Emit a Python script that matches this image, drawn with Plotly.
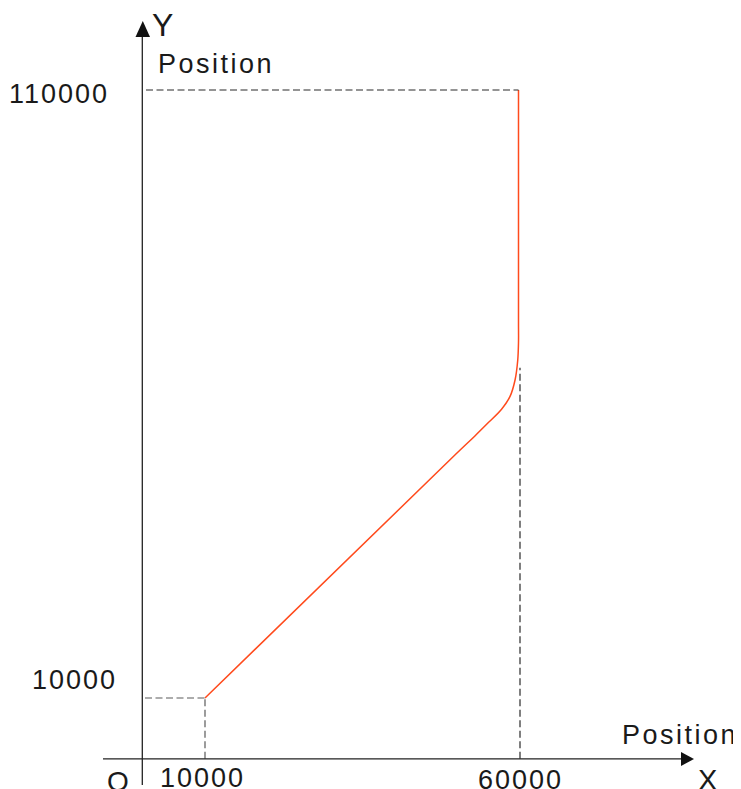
import plotly.graph_objects as go

# ---- data ----
path_x = [10000, 49900, 53050, 55200, 57300, 58650, 59450, 59880, 60000, 60000, 60000]
path_y = [10000, 50000, 53100, 55300, 57500, 59600, 62300, 65600, 68500, 72000, 110000]

x_ticks = [10000, 60000]
x_tick_labels = ["10000", "60000"]
y_ticks = [10000, 110000]
y_tick_labels = ["10000", "110000"]
guide_60000_from = 64300   # lower dashed guide at x=60000 starts here

# ---- pixel mapping (plot area = full figure; page body has an 8px margin) ----
W, H = 741, 789
PAGE = 8
SX = 0.00627   # px per unit
SY = 0.00608
OX, OY = 142.3 - PAGE, 758.8 - PAGE
x0 = -OX / SX
x1 = x0 + W / SX
y1 = OY / SY
y0 = y1 - H / SY


def ux(px):   # reference screen px -> data x
    return (px - PAGE - OX) / SX


def uy(py):
    return (OY - (py - PAGE)) / SY


FONT = "Liberation Sans, Arial, sans-serif"
TXT = "#1a1a1a"


def sp(t, s=2):
    return f'<span style="letter-spacing:{s}px">{t}</span>'


fig = go.Figure()

# curve
fig.add_trace(go.Scatter(x=path_x, y=path_y, mode="lines",
                         line=dict(color="#ff4a1c", width=1.5, shape="spline", smoothing=1.0),
                         hoverinfo="skip", showlegend=False))

shapes = []
dash_dark = dict(color="#2a2a2a", width=1.2, dash="7px,3.5px")
dash_grey = dict(color="#5a5a5a", width=1.2, dash="7px,3.5px")
# guides
shapes.append(dict(type="line", xref="x", yref="y", x0=ux(146), x1=x_ticks[1], y0=y_ticks[1], y1=y_ticks[1], line=dash_dark))
shapes.append(dict(type="line", xref="x", yref="y", x0=ux(145), x1=x_ticks[0], y0=y_ticks[0], y1=y_ticks[0], line=dash_grey))
shapes.append(dict(type="line", xref="x", yref="y", x0=x_ticks[0], x1=x_ticks[0], y0=0, y1=y_ticks[0], line=dash_grey))
gx = x_ticks[1] + ux(520) - ux(518.5)
shapes.append(dict(type="line", xref="x", yref="y", x0=gx, x1=gx, y0=0, y1=guide_60000_from, line=dash_dark))
# axes
shapes.append(dict(type="line", xref="x", yref="y", x0=ux(103), x1=ux(684), y0=0, y1=0,
                   line=dict(color="#222222", width=1.3)))
shapes.append(dict(type="line", xref="x", yref="y", x0=0, x1=0, y0=uy(785), y1=uy(36),
                   line=dict(color="#222222", width=1.3)))
# arrow heads
shapes.append(dict(type="path", xref="x", yref="y",
                   path=f"M {ux(681)} {uy(752)} L {ux(694)} {uy(759)} L {ux(681)} {uy(766)} Z",
                   fillcolor="#111111", line=dict(width=0)))
shapes.append(dict(type="path", xref="x", yref="y",
                   path=f"M {ux(135.5)} {uy(37)} L {ux(142.8)} {uy(21)} L {ux(150)} {uy(37)} Z",
                   fillcolor="#111111", line=dict(width=0)))

ann = []
fs = 27
# y tick labels
ann.append(dict(x=0, y=y_ticks[1], text=sp(y_tick_labels[1]), xanchor="right", yanchor="middle",
                xshift=-31, yshift=-4, showarrow=False, font=dict(size=fs, color=TXT, family=FONT)))
ann.append(dict(x=0, y=y_ticks[0], text=sp(y_tick_labels[0]), xanchor="right", yanchor="middle",
                xshift=-23, yshift=18, showarrow=False, font=dict(size=fs, color=TXT, family=FONT)))
# x tick labels
ann.append(dict(x=x_ticks[0], y=0, text=sp(x_tick_labels[0]), xanchor="center", yanchor="top",
                xshift=-3, yshift=-2, showarrow=False, font=dict(size=fs, color=TXT, family=FONT)))
ann.append(dict(x=x_ticks[1], y=0, text=sp(x_tick_labels[1]), xanchor="center", yanchor="top",
                xshift=2, yshift=-4, showarrow=False, font=dict(size=fs, color=TXT, family=FONT)))
# origin & axis names
ann.append(dict(x=ux(118), y=0, text="O", xanchor="center", yanchor="top", yshift=-5,
                showarrow=False, font=dict(size=28, color=TXT, family=FONT)))
ann.append(dict(x=ux(707), y=0, text="X", xanchor="center", yanchor="top", yshift=-3,
                showarrow=False, font=dict(size=29, color=TXT, family=FONT)))
ann.append(dict(x=ux(680), y=uy(735), text=sp("Position", 2.5), xanchor="center", yanchor="middle",
                showarrow=False, font=dict(size=fs, color=TXT, family=FONT)))
ann.append(dict(x=ux(156), y=uy(64), text=sp("Position", 2.5), xanchor="left", yanchor="middle",
                showarrow=False, font=dict(size=fs, color=TXT, family=FONT)))
ann.append(dict(x=ux(162), y=uy(25), text="Y", xanchor="center", yanchor="middle",
                showarrow=False, font=dict(size=32, color=TXT, family=FONT)))

fig.update_layout(
    width=W, height=H,
    margin=dict(l=0, r=0, t=0, b=0),
    paper_bgcolor="white", plot_bgcolor="white",
    xaxis=dict(range=[x0, x1], visible=False, fixedrange=True),
    yaxis=dict(range=[y0, y1], visible=False, fixedrange=True),
    shapes=shapes, annotations=ann,
)

fig.write_html("out.html")
